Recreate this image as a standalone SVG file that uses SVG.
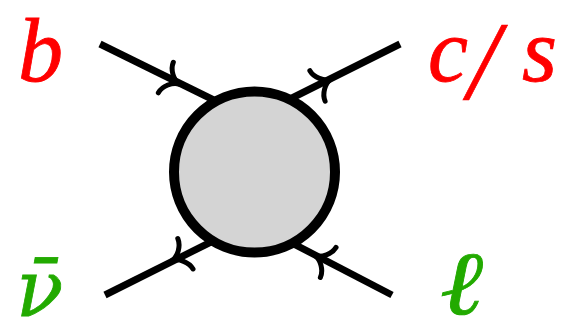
<svg xmlns="http://www.w3.org/2000/svg" width="563" height="335" viewBox="0 0 563 335">
<style>
.line{stroke:#000;stroke-width:7;fill:none;stroke-linecap:butt}
.arr{stroke:#000;stroke-width:5;fill:none;stroke-linecap:round;stroke-linejoin:round}
.lbl{font-family:"Liberation Serif","DejaVu Serif",serif;font-style:italic;font-size:90px;stroke-width:0.8}
.red{fill:#ff0000;stroke:#ff0000}
.green{fill:#22aa00;stroke:#22aa00}
</style>
<defs>
<path id="arrow" class="arr" d="M -15,-17 C -14.5,-9 -7,-1 0,0 C -7,1 -14.5,9 -15,17"/>
</defs>
<g id="connectors">
<line class="line" x1="100" y1="44" x2="230" y2="108"/>
<line class="line" x1="400" y1="44" x2="280" y2="104"/>
<line class="line" x1="105" y1="295" x2="225" y2="235"/>
<line class="line" x1="392" y1="295" x2="280" y2="236.8"/>
<use href="#arrow" transform="translate(179.3,84.1) rotate(26.1)"/>
<use href="#arrow" transform="translate(330.9,79.2) rotate(-26.6)"/>
<use href="#arrow" transform="translate(172,260.5) rotate(153.4)"/>
<use href="#arrow" transform="translate(314.9,255.5) rotate(-152.5)"/>
</g>
<g id="blob">
<circle cx="254.5" cy="172" r="80.5" fill="#d4d4d4" stroke="#000" stroke-width="10"/>
</g>
<g id="label-b"><text class="lbl red" x="18" y="81">b</text></g>
<g id="label-cs"><text class="lbl red" y="81"><tspan x="428">c</tspan><tspan x="468" dy="18" style="font-size:112px;stroke-width:0.6">/</tspan><tspan x="522" dy="-18">s</tspan></text></g>
<g id="label-nubar"><text class="lbl green" x="16" y="316" style="font-family:'DejaVu Serif',serif;font-size:78px">ν̄</text></g>
<g id="label-ell"><text class="lbl green" transform="translate(440,314) scale(1.15,1)" x="0" y="0">ℓ</text></g>
</svg>
